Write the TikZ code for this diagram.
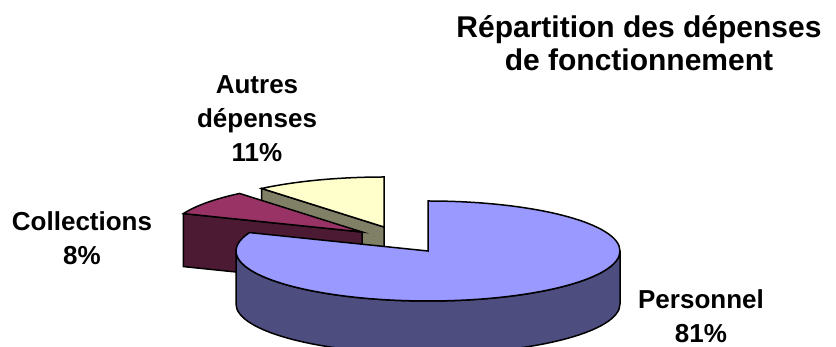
\documentclass[tikz,border=0pt]{standalone}
\usepackage{fontspec}
\setmainfont{Liberation Sans}
\definecolor{persotop}{RGB}{153,153,255}
\definecolor{persoside}{RGB}{77,77,128}
\definecolor{colltop}{RGB}{153,51,102}
\definecolor{collside}{RGB}{77,26,51}
\definecolor{autrestop}{RGB}{255,255,204}
\definecolor{autresside}{RGB}{128,128,102}
\begin{document}
\begin{tikzpicture}[x=1pt,y=1pt,
  slice/.style={draw=black,line width=1.5pt},
  lbl/.style={font=\fontsize{26}{34}\selectfont\bfseries,align=center,anchor=base,inner sep=0pt}]
\useasboundingbox (0,0) rectangle (836,347);
\pgfmathsetmacro{\piex}{192}
\pgfmathsetmacro{\piey}{50}
\pgfmathsetmacro{\piez}{53}
\coordinate (A) at (384,120);
\coordinate (C) at (362,115);
\coordinate (P) at (428,96);
% Autres depenses
\draw[slice,fill=autresside] (A) -- ++(129.6:\piex pt and \piey pt) -- ++(0,-\piez) -- ++(309.6:\piex pt and \piey pt) -- cycle;
\draw[slice,fill=autrestop] (A) -- ++(0,\piey) arc[start angle=90,end angle=129.6,x radius=\piex pt,y radius=\piey pt] -- cycle;
% Collections
\draw[slice,fill=collside] (C) -- ++(158.4:\piex pt and \piey pt) -- ++(0,-\piez) -- ++(338.4:\piex pt and \piey pt) -- cycle;
\draw[slice,fill=colltop] (C) -- ++(158.4:\piex pt and \piey pt) arc[start angle=158.4,end angle=129.6,x radius=\piex pt,y radius=\piey pt] -- cycle;
% Personnel
\draw[slice,fill=persoside] ([xshift=-\piex pt]P) -- ++(0,-\piez) arc[start angle=180,end angle=360,x radius=\piex pt,y radius=\piey pt] -- ++(0,\piez) arc[start angle=0,end angle=-180,x radius=\piex pt,y radius=\piey pt] -- cycle;
\draw[slice,fill=persotop] (P) -- ++(0,\piey) arc[start angle=90,end angle=-201.6,x radius=\piex pt,y radius=\piey pt] -- cycle;
% labels (base = last line)
\node[lbl] (autres) at (257,185) {Autres\\dépenses\\11\%};
\node[lbl] (coll) at (82,82) {Collections\\8\%};
\node[lbl] (perso) at (701,4) {Personnel\\81\%};
\node[lbl,font=\fontsize{30}{33}\selectfont\bfseries] (titre) at (639,276) {Répartition des dépenses\\de fonctionnement};
\end{tikzpicture}
\end{document}
